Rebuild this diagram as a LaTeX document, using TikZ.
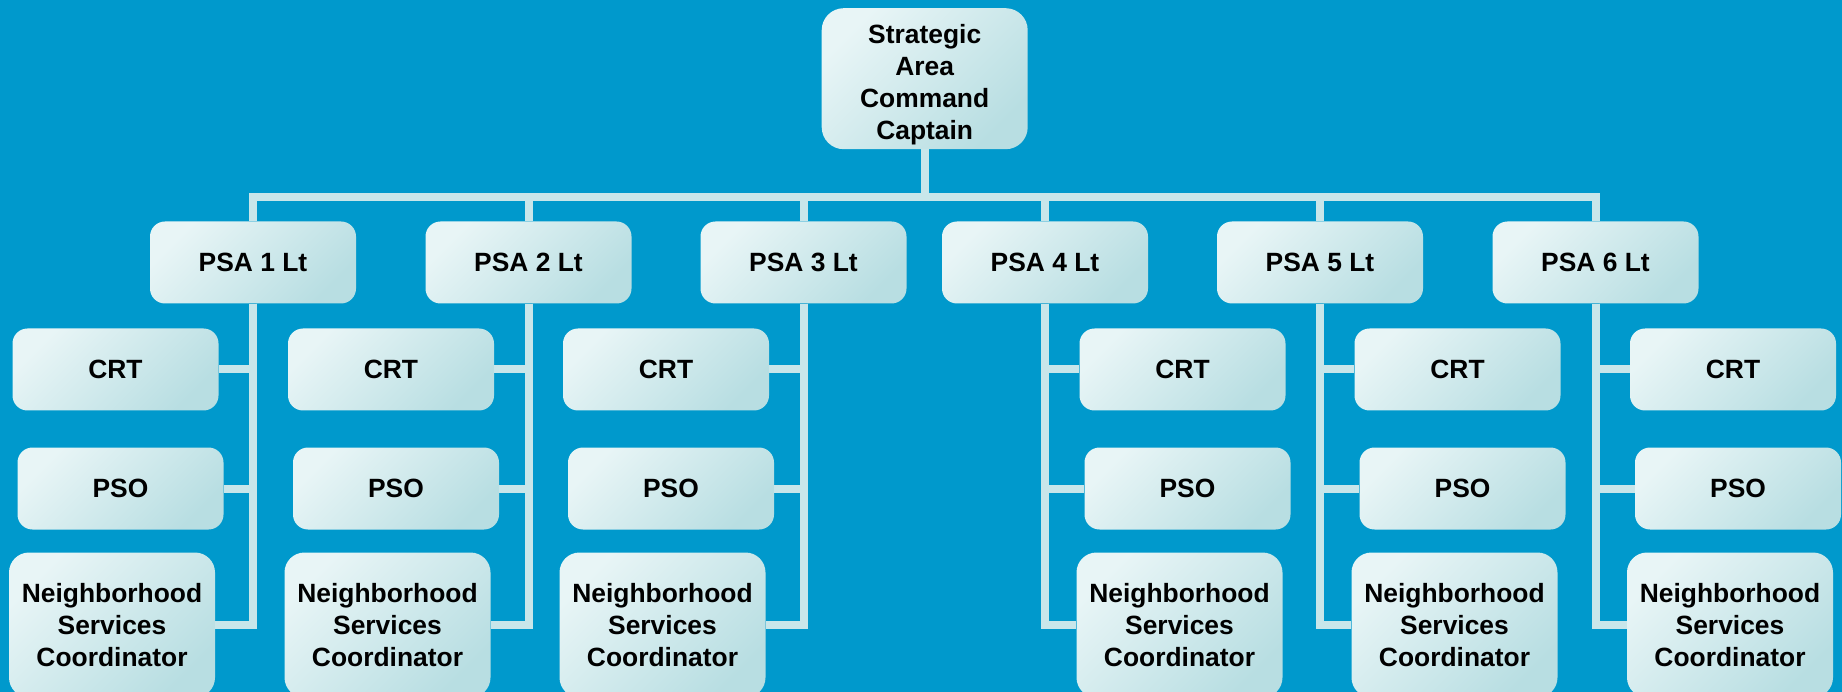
\documentclass[tikz,border=0pt]{standalone}
\usepackage{fontspec}
\setmainfont{Liberation Sans}
\definecolor{bgblue}{RGB}{0,153,204}
\definecolor{boxlight}{RGB}{232,245,246}
\definecolor{boxdark}{RGB}{184,222,226}
\definecolor{wirecol}{RGB}{200,230,234}
\begin{document}
\begin{tikzpicture}[x=1pt,y=-1pt,
  box/.style={rounded corners=15pt, top color=boxlight, bottom color=boxdark, shading angle=45,
    minimum width=206pt, minimum height=82pt, inner sep=0pt, align=center,
    font=\fontsize{26.4}{31.8}\selectfont\bfseries},
  bigbox/.style={box, rounded corners=22pt, minimum height=141pt, text height=121pt, text depth=0pt},
  nscbox/.style={box, rounded corners=20pt, minimum height=145pt},
  wire/.style={draw=wirecol, line width=8pt}]
\useasboundingbox (0,0) rectangle (1842,692);
\clip (0,0) rectangle (1842,692);
\fill[bgblue] (0,0) rectangle (1842,692);
\node[bigbox] (sac) at (924.7,78.7) {Strategic\\Area\\Command\\Captain};
\coordinate (bus) at (924.7,196.7);
\node[box] (psa1) at (253,262.5) {PSA 1 Lt};
\node[box] (crt1) at (115.5,369.5) {CRT};
\node[box] (pso1) at (120.5,488.5) {PSO};
\node[nscbox] (nsc1) at (112,625) {Neighborhood\\Services\\Coordinator};
\node[box] (psa2) at (528.5,262.5) {PSA 2 Lt};
\node[box] (crt2) at (391,369.5) {CRT};
\node[box] (pso2) at (396,488.5) {PSO};
\node[nscbox] (nsc2) at (387.5,625) {Neighborhood\\Services\\Coordinator};
\node[box] (psa3) at (803.5,262.5) {PSA 3 Lt};
\node[box] (crt3) at (666,369.5) {CRT};
\node[box] (pso3) at (671,488.5) {PSO};
\node[nscbox] (nsc3) at (662.5,625) {Neighborhood\\Services\\Coordinator};
\node[box] (psa4) at (1045,262.5) {PSA 4 Lt};
\node[box] (crt4) at (1182.5,369.5) {CRT};
\node[box] (pso4) at (1187.5,488.5) {PSO};
\node[nscbox] (nsc4) at (1179.5,625) {Neighborhood\\Services\\Coordinator};
\node[box] (psa5) at (1320,262.5) {PSA 5 Lt};
\node[box] (crt5) at (1457.5,369.5) {CRT};
\node[box] (pso5) at (1462.5,488.5) {PSO};
\node[nscbox] (nsc5) at (1454.5,625) {Neighborhood\\Services\\Coordinator};
\node[box] (psa6) at (1595.5,262.5) {PSA 6 Lt};
\node[box] (crt6) at (1733,369.5) {CRT};
\node[box] (pso6) at (1738,488.5) {PSO};
\node[nscbox] (nsc6) at (1730,625) {Neighborhood\\Services\\Coordinator};
% top level
\draw[wire] (sac.south) -- (bus);
\draw[wire] (psa1.north) |- (bus);
\draw[wire] (psa2.north) |- (bus);
\draw[wire] (psa3.north) |- (bus);
\draw[wire] (psa4.north) |- (bus);
\draw[wire] (psa5.north) |- (bus);
\draw[wire] (psa6.north) |- (bus);
% units
\draw[wire] (psa1.south) |- (crt1.east);
\draw[wire] (psa1.south) |- (pso1.east);
\draw[wire] (psa1.south) |- (nsc1.east);
\draw[wire] (psa2.south) |- (crt2.east);
\draw[wire] (psa2.south) |- (pso2.east);
\draw[wire] (psa2.south) |- (nsc2.east);
\draw[wire] (psa3.south) |- (crt3.east);
\draw[wire] (psa3.south) |- (pso3.east);
\draw[wire] (psa3.south) |- (nsc3.east);
\draw[wire] (psa4.south) |- (crt4.west);
\draw[wire] (psa4.south) |- (pso4.west);
\draw[wire] (psa4.south) |- (nsc4.west);
\draw[wire] (psa5.south) |- (crt5.west);
\draw[wire] (psa5.south) |- (pso5.west);
\draw[wire] (psa5.south) |- (nsc5.west);
\draw[wire] (psa6.south) |- (crt6.west);
\draw[wire] (psa6.south) |- (pso6.west);
\draw[wire] (psa6.south) |- (nsc6.west);
\end{tikzpicture}
\end{document}
